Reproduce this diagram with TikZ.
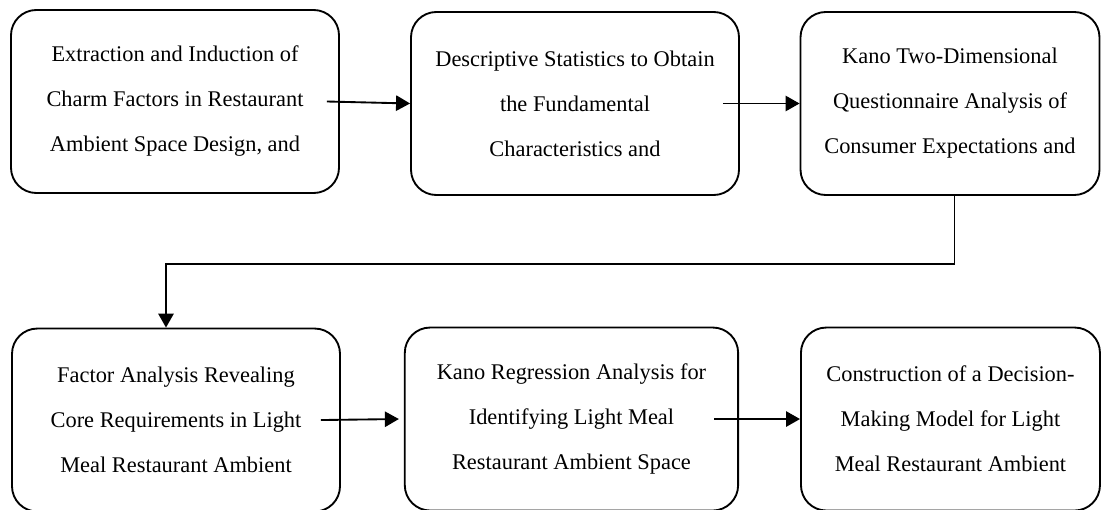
\documentclass[tikz,border=0pt]{standalone}
\usepackage{fontspec}
\setmainfont{Liberation Serif}
\usetikzlibrary{positioning,arrows.meta}

\begin{document}
\begin{tikzpicture}[x=0.75pt,y=0.75pt,on grid,line width=1.4pt,
   stage/.style={draw,rounded corners=19pt,minimum width=246pt,minimum height=137.25pt,
      inner sep=0pt,align=center,font=\fontsize{16.8pt}{33.75pt}\selectfont},
   >={Triangle[length=10.5pt,width=11.5pt]}]
   \clip (0,0) rectangle (1101,-510);
   \node[stage] (s_1) at (175,-101.5) {Extraction and Induction of\\Charm Factors in Restaurant\\Ambient Space Design, and};
   \node[stage] (s_2) [below right=1.5pt and 300pt of s_1] {Descriptive Statistics to Obtain\\the Fundamental\\Characteristics and};
   \node[stage,minimum width=224.25pt] (s_3) [right=281.25pt of s_2] {Kano Two-Dimensional\\Questionnaire Analysis of\\Consumer Expectations and};
   \node[stage] (s_4) [below right=238.9pt and 0.75pt of s_1] {Factor Analysis Revealing\\Core Requirements in Light\\Meal Restaurant Ambient};
   \node[stage,minimum width=250pt] (s_5) [above right=0.75pt and 296.6pt of s_4] {Kano Regression Analysis for\\Identifying Light Meal\\Restaurant Ambient Space};
   \node[stage,minimum width=224.25pt] (s_6) [right=284.25pt of s_5] {Construction of a Decision-\\Making Model for Light\\Meal Restaurant Ambient};

    \path[->]
    ([xshift=-9.75pt]s_1.east) edge (s_2.west)
    ([xshift=-12.75pt]s_2.east) edge (s_3.west)
    ([xshift=-15pt]s_4.east) edge ([xshift=-3.75pt]s_5.west)
    ([xshift=-18.75pt]s_5.east) edge (s_6.west)
    ;
    \draw[->] ([xshift=3.4pt]s_3.south) -- ++(0,-51pt) -| ([xshift=-7.5pt]s_4.north);
\end{tikzpicture}
\end{document}
